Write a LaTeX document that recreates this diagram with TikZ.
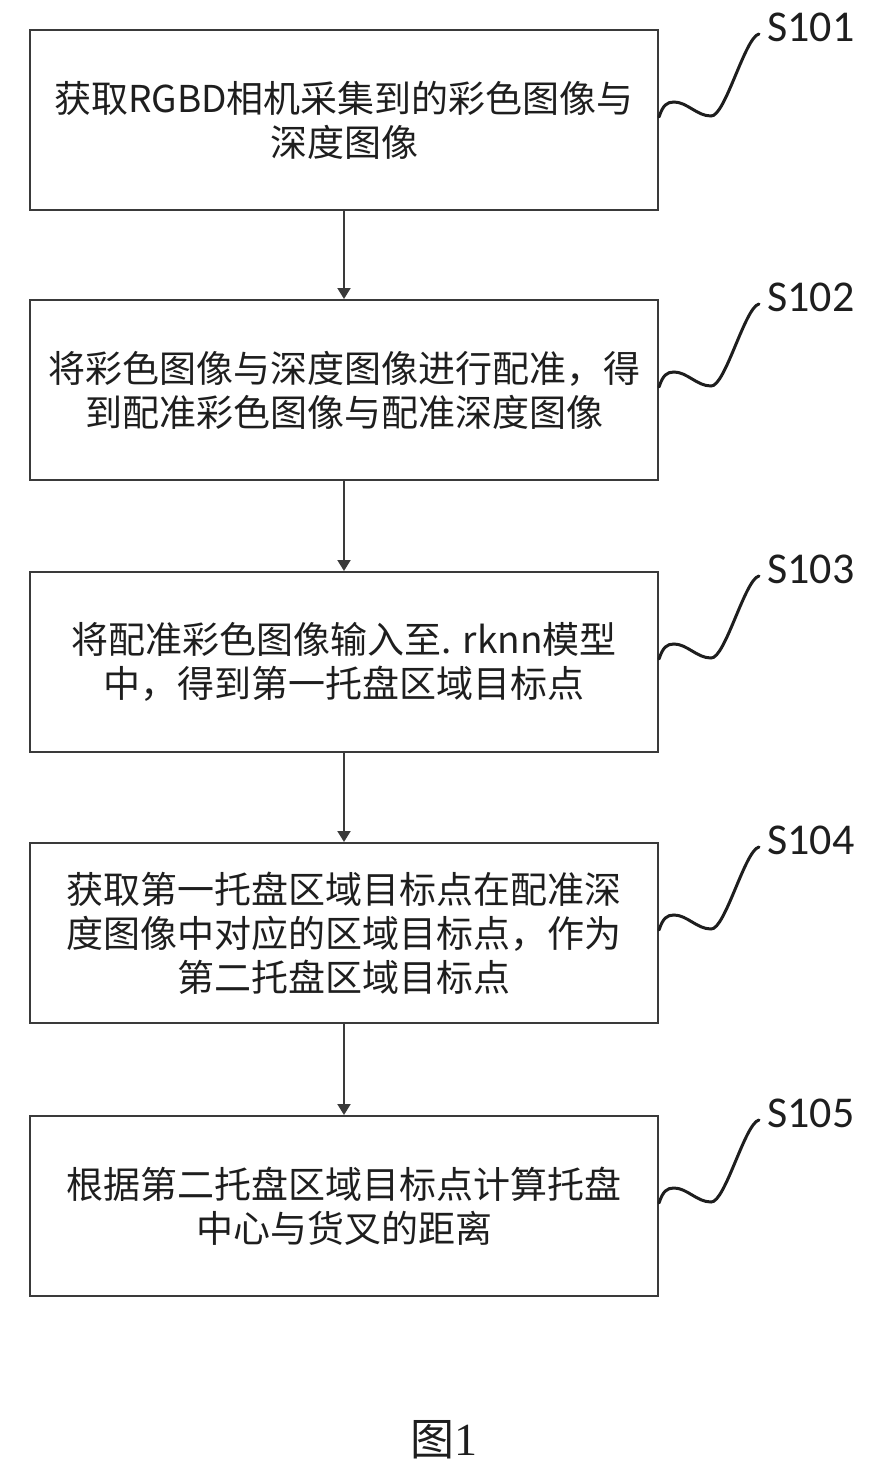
\documentclass[tikz,border=0pt]{standalone}
\usepackage{fontspec}
\setmainfont{Liberation Serif}
\newfontfamily\cjk{Noto Sans CJK SC}
\newfontfamily\labfont{Carlito}
\usetikzlibrary{arrows.meta,calc}
\definecolor{ink}{HTML}{1E1E1E}
\definecolor{edge}{HTML}{3A3A3A}
\begin{document}
\begin{tikzpicture}[x=1pt,y=-1pt,
  stepbox/.style={draw=edge,line width=2pt,minimum width=628pt,minimum height=180pt,
    inner sep=0pt,align=center,text=ink,font=\cjk\fontsize{37}{44}\selectfont},
  steplabel/.style={anchor=west,inner sep=0pt,text=ink,font=\labfont\fontsize{44}{44}\selectfont},
  flow/.style={draw=edge,line width=2pt,-{Triangle[length=11pt,width=13pt]}},
  squig/.style={draw=ink,line width=3pt,line cap=round}]
\useasboundingbox (0,0) rectangle (877,1472);
\node[stepbox] (b1) at (344,120) {获取RGBD相机采集到的彩色图像与\\深度图像};
\node[stepbox] (b2) at (344,390) {将彩色图像与深度图像进行配准，得\\到配准彩色图像与配准深度图像};
\node[stepbox] (b3) at (344,662) {将配准彩色图像输入至. rknn模型\\中，得到第一托盘区域目标点};
\node[stepbox] (b4) at (344,933) {获取第一托盘区域目标点在配准深\\度图像中对应的区域目标点，作为\\第二托盘区域目标点};
\node[stepbox] (b5) at (344,1206) {根据第二托盘区域目标点计算托盘\\中心与货叉的距离};
\foreach \i in {1,...,5}{
  \node[steplabel] (l\i) at ($(b\i.north east)+(108,-2)$) {S10\i};
  \coordinate (s\i) at ($(b\i.north east)+(0,88)$);
  \draw[squig] (s\i) .. controls ($(s\i)+(4,-12)$) and ($(s\i)+(8,-15)$) .. ($(s\i)+(15,-15)$)
    .. controls ($(s\i)+(28,-15)$) and ($(s\i)+(38,-1)$) .. ($(s\i)+(52,-1)$)
    .. controls ($(s\i)+(66,0)$) and ($(s\i)+(86,-80)$) .. ($(s\i)+(100,-83)$);
}
\draw[flow] (b1.south) -- (b2.north);
\draw[flow] (b2.south) -- (b3.north);
\draw[flow] (b3.south) -- (b4.north);
\draw[flow] (b4.south) -- (b5.north);
\node[text=ink,font=\fontsize{46}{46}\selectfont] (cap) at (444,1440) {{\cjk\fontsize{44}{44}\selectfont 图}1};
\end{tikzpicture}
\end{document}
